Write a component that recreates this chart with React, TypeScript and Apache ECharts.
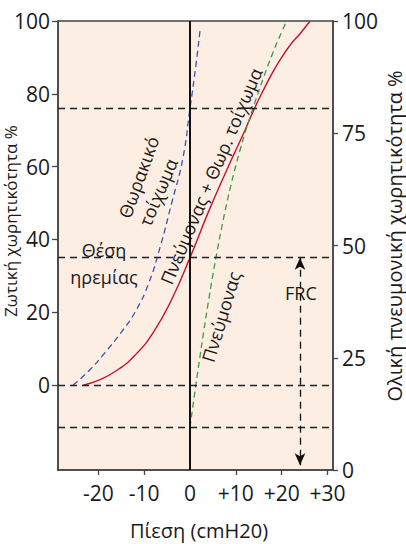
import React, { useEffect, useRef } from 'react';
import * as echarts from 'echarts';

// ---- data ----
const xTickValues = [-20, -10, 0, 10, 20, 30];
const vcTickValues = [0, 20, 40, 60, 80, 100];

// Θωρακικό τοίχωμα (chest wall)
const chestWallP = [-25.5, -22, -18.5, -15, -12, -9, -6.5, -4, -1.6, 0, 1.2, 2.2];
const chestWallV = [0, 4, 9, 14.5, 20, 28, 38, 50, 62, 76, 87, 97.5];

// Πνεύμονας + Θωρ. τοίχωμα (total)
const totalP = [-23.3, -20, -16, -12, -8, -4, 0, 4, 8, 12, 14, 16, 18, 20, 22, 24, 26.2];
const totalV = [0, 1.3, 4, 8.2, 14.5, 23.5, 35, 47.5, 59, 70, 75.8, 81, 85.8, 90, 93.6, 96.5, 100];

// Πνεύμονας (lung)
const lungP = [0, 1, 2, 3, 4, 5, 6, 7, 8, 9, 10, 11, 12, 14, 16, 18, 20, 21.1];
const lungV = [-11.6, -2.5, 6.3, 14.8, 22.8, 30.3, 37.3, 43.8, 49.8, 55.3, 60.3, 64.9, 69.2, 77, 84.3, 91, 97, 100];

// horizontal guide levels (vital capacity %)
const guideLevels = [76, 35, 0, -11.6];
// FRC arrow
const frcP = 24;
const frcTop = 35;
const frcBottom = -22;

const X_MIN = -28.8;
const X_MAX = 31.2;
const VC_MIN = -23.33;
const VC_MAX = 100;

const FONT = "'Open Sans', 'Noto Sans', sans-serif";
const TXT = '#1a1a1a';

const annotations = [
  { text: 'Θέση', p: -18.76, v: 37.0, rot: 0 },
  { text: 'ηρεμίας', p: -18.76, v: 29.6, rot: 0 },
  { text: 'Θωρακικό', p: -11.24, v: 57.1, rot: 70 },
  { text: 'τοίχωμα', p: -6.98, v: 53.0, rot: 67 },
  { text: 'Πνεύμονας + Θωρ. τοίχωμα', p: 4.58, v: 57.4, rot: 67 },
  { text: 'Πνεύμονας', p: 6.76, v: 18.8, rot: 73 },
  { text: 'FRC', p: 24.2, v: 25.3, rot: 0 },
];

const zip = (a: number[], b: number[]) => a.map((x, i) => [x, b[i]]);

export default function App() {
  const ref = useRef<HTMLDivElement>(null);
  useEffect(() => {
    document.body.style.margin = '0';
    if (!ref.current) return;
    const chart = echarts.init(ref.current, null, { renderer: 'svg' });
    const dash = { color: '#222', type: [7, 5] as any, width: 1.3 };
    chart.setOption({
      animation: false,
      backgroundColor: '#ffffff',
      textStyle: { fontFamily: FONT },
      grid: {
        left: 58, right: 73, top: 21, bottom: 74,
        show: true, backgroundColor: '#FDEEE4', borderColor: '#444', borderWidth: 1.5,
      },
      xAxis: {
        type: 'value', min: X_MIN, max: X_MAX,
        axisLine: { show: true, onZero: false, lineStyle: { color: '#444', width: 1.5 } },
        axisTick: { show: true, customValues: [-20, -10, 10, 20, 30], length: 5, lineStyle: { color: '#444', width: 1.3 } },
        axisLabel: {
          customValues: xTickValues, fontSize: 21, color: TXT, margin: 12, fontFamily: FONT,
          formatter: (v: number) => (v > 0 ? '+' + v : String(v)),
        },
        splitLine: { show: false },
      },
      yAxis: [
        {
          type: 'value', min: VC_MIN, max: VC_MAX, position: 'left',
          axisLine: { show: true, onZero: false, lineStyle: { color: '#444', width: 1.5 } },
          axisTick: { show: true, customValues: vcTickValues, length: 6, lineStyle: { color: '#444', width: 1.3 } },
          axisLabel: { customValues: vcTickValues, fontSize: 21, color: TXT, margin: 8, fontFamily: FONT },
          splitLine: { show: false },
        },
        {
          type: 'value', min: 0, max: 100, interval: 25, position: 'right',
          axisLine: { show: true, onZero: false, lineStyle: { color: '#444', width: 1.5 } },
          axisTick: { show: true, length: 5, lineStyle: { color: '#444', width: 1.3 } },
          axisLabel: { fontSize: 21, color: TXT, margin: 9, fontFamily: FONT },
          splitLine: { show: false },
        },
      ],
      series: [
        {
          name: 'Πνεύμονας + Θωρ. τοίχωμα', type: 'line', yAxisIndex: 0,
          data: zip(totalP, totalV), showSymbol: false, symbol: 'none',
          smooth: 0.5,
          lineStyle: { color: '#C8102E', width: 1.4 },
          markLine: {
            silent: true, symbol: ['none', 'none'], label: { show: false },
            lineStyle: dash,
            data: [
              ...guideLevels.map((v) => ({ yAxis: v })),
              { xAxis: 0, lineStyle: { color: '#111', type: 'solid', width: 2 } },
            ],
          },
        },
        {
          name: 'Θωρακικό τοίχωμα', type: 'line', yAxisIndex: 0,
          data: zip(chestWallP, chestWallV), showSymbol: false, symbol: 'none',
          smooth: 0.5,
          lineStyle: { color: '#3A55B4', width: 1.3, type: [6, 4] },
        },
        {
          name: 'Πνεύμονας', type: 'line', yAxisIndex: 0,
          data: zip(lungP, lungV), showSymbol: false, symbol: 'none',
          smooth: 0.5,
          lineStyle: { color: '#3E9B3E', width: 1.3, type: [6, 4] },
          markLine: {
            silent: true, symbol: ['arrow', 'arrow'], symbolSize: [8, 12], label: { show: false },
            lineStyle: { color: '#111', type: [7, 5], width: 1.3 },
            data: [[{ coord: [frcP, frcTop] }, { coord: [frcP, frcBottom] }]],
          },
        },
      ],
    });

    const finder = { xAxisIndex: 0, yAxisIndex: 0 };
    const texts: any[] = annotations.map((a) => {
      const [x, y] = chart.convertToPixel(finder as any, [a.p, a.v]) as number[];
      return {
        type: 'text', x, y, rotation: (a.rot * Math.PI) / 180, silent: true,
        style: { text: a.text, fontSize: 18, fontFamily: FONT, fill: TXT, align: 'center', verticalAlign: 'middle' },
      };
    });
    texts.push(
      { type: 'text', x: 10, y: 221, rotation: Math.PI / 2, style: { text: 'Ζωτική χωρητικότητα %', fontSize: 17, fontFamily: FONT, fill: TXT, align: 'center', verticalAlign: 'middle' } },
      { type: 'text', x: 394, y: 236, rotation: Math.PI / 2, style: { text: 'Ολική πνευμονική χωρητικότητα %', fontSize: 20, fontFamily: FONT, fill: TXT, align: 'center', verticalAlign: 'middle' } },
      { type: 'text', x: 199, y: 530, style: { text: 'Πίεση (cmH20)', fontSize: 20, fontFamily: FONT, fill: TXT, align: 'center', verticalAlign: 'middle' } },
    );
    chart.setOption({ graphic: texts });
    return () => chart.dispose();
  }, []);
  return <div ref={ref} style={{ width: 406, height: 544 }} />;
}
